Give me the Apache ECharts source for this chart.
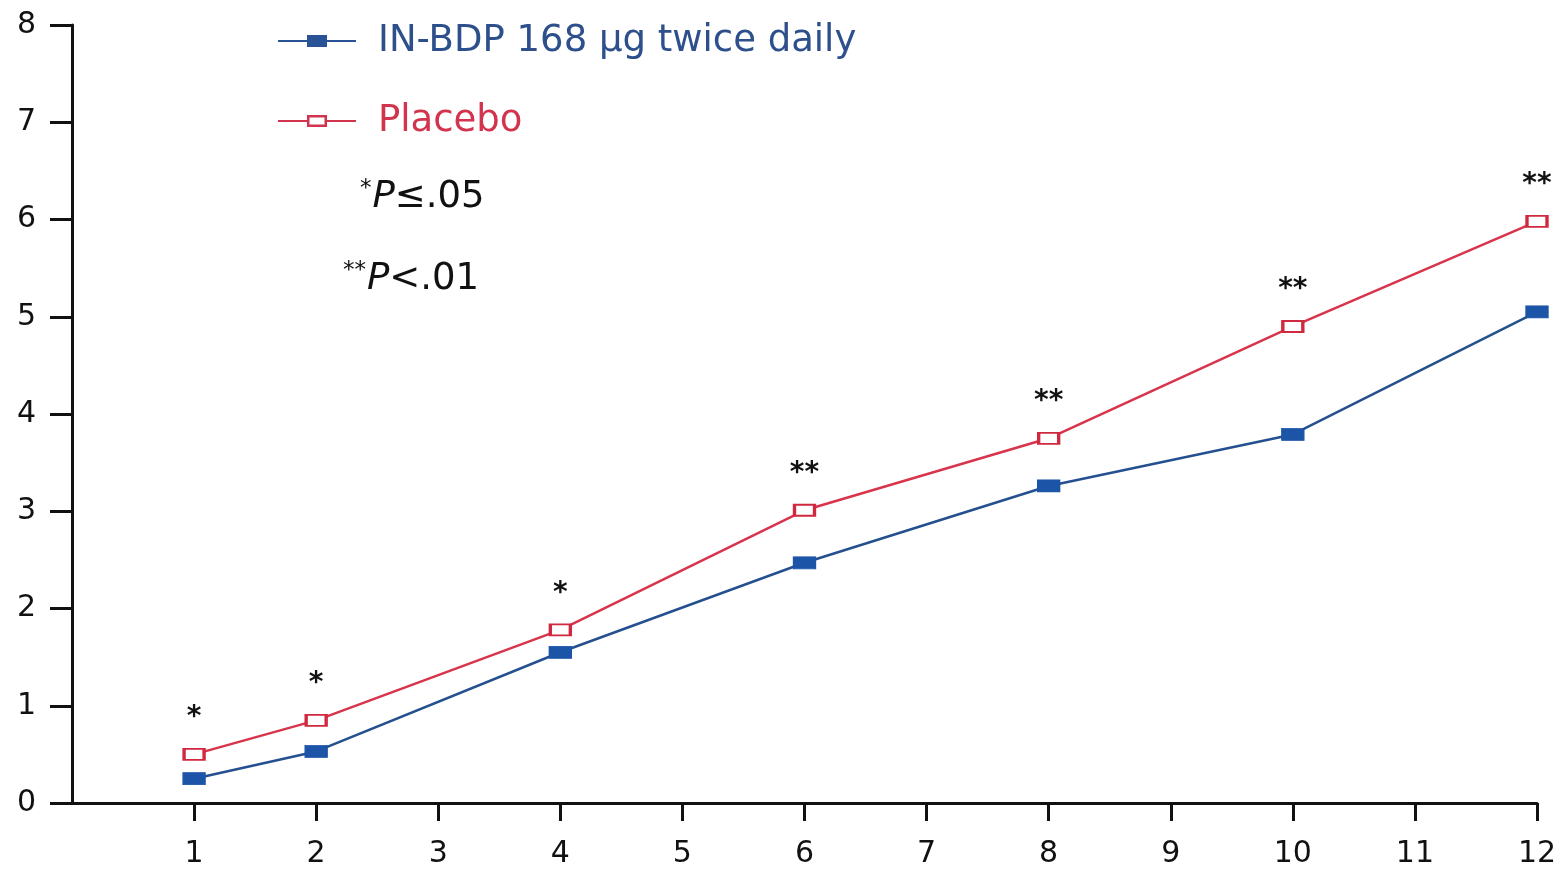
<!DOCTYPE html>
<html>
<head>
<meta charset="utf-8">
<script src="https://cdn.jsdelivr.net/npm/echarts@6/dist/echarts.min.js"></script>
<style>html,body{margin:0;padding:0;background:#fff}#c{width:1560px;height:869px}</style>
</head>
<body>
<div id="c"></div>
<script>
const weeks = [1, 2, 4, 6, 8, 10, 12];
const bdpValues = [0.25, 0.53, 1.55, 2.47, 3.26, 3.79, 5.05];
const placeboValues = [0.50, 0.85, 1.78, 3.01, 3.75, 4.90, 5.98];
const significance = ['*', '*', '*', '**', '**', '**', '**'];
const xTicks = [1, 2, 3, 4, 5, 6, 7, 8, 9, 10, 11, 12];
const yTicks = [0, 1, 2, 3, 4, 5, 6, 7, 8];
const seriesNames = ['IN-BDP 168 \u00b5g twice daily', 'Placebo'];

const blue = '#25508f';
const red = '#d8344c';
const font = 'DejaVu Sans, Liberation Sans, sans-serif';

const iconFilled = 'path://M0,5H29V0H49V5H78V7H49V12H29V7H0Z';
const iconHollow = 'path://M0,5H29V0H49V5H78V7H49V12H29V7H0Z M31.5,2.5V9.5H46.5V2.5Z';

const chart = echarts.init(document.getElementById('c'), null, {renderer: 'canvas'});
chart.setOption({
  animation: false,
  backgroundColor: '#fff',
  grid: {left: 72, right: 23, top: 25, bottom: 66, containLabel: false},
  legend: {
    orient: 'vertical',
    left: 278,
    top: 19,
    padding: 0,
    itemWidth: 78,
    itemHeight: 12,
    itemGap: 36,
    textStyle: {fontSize: 37, fontFamily: font, lineHeight: 44, padding: [0, 0, 0, 17]},
    data: [
      {name: seriesNames[0], icon: iconFilled, itemStyle: {color: '#2a5296', borderWidth: 0}, textStyle: {color: '#2d4f8c'}},
      {name: seriesNames[1], icon: iconHollow, itemStyle: {color: '#d2344e', borderWidth: 0}, textStyle: {color: '#d2344e'}}
    ]
  },
  xAxis: {
    type: 'value',
    min: 0,
    max: 12,
    interval: 1,
    splitLine: {show: false},
    axisLine: {show: true, lineStyle: {color: '#111', width: 3}},
    axisTick: {show: true, length: 18, lineStyle: {color: '#111', width: 3}, customValues: xTicks},
    axisLabel: {fontSize: 30, color: '#111', fontFamily: font, margin: 36, customValues: xTicks}
  },
  yAxis: {
    type: 'value',
    min: 0,
    max: 8,
    interval: 1,
    splitLine: {show: false},
    axisLine: {show: true, lineStyle: {color: '#111', width: 3}},
    axisTick: {show: true, length: 22, lineStyle: {color: '#111', width: 3}, customValues: yTicks},
    axisLabel: {fontSize: 30, color: '#111', fontFamily: font, margin: 36, customValues: yTicks}
  },
  series: [
    {
      name: seriesNames[0],
      type: 'line',
      data: weeks.map((w, i) => [w, bdpValues[i]]),
      symbol: 'rect',
      symbolSize: [22, 12],
      lineStyle: {color: blue, width: 2.5},
      itemStyle: {color: '#1c55a8', borderColor: '#1c55a8', borderWidth: 1},
      z: 3
    },
    {
      name: seriesNames[1],
      type: 'line',
      data: weeks.map((w, i) => [w, placeboValues[i]]),
      symbol: 'rect',
      symbolSize: [20, 11],
      lineStyle: {color: red, width: 2.5},
      itemStyle: {color: '#fff', borderColor: '#d0283e', borderWidth: 2.5},
      label: {
        show: true,
        position: 'top',
        distance: 16,
        fontSize: 28,
        fontWeight: 'bold',
        color: '#111',
        fontFamily: font,
        formatter: p => significance[p.dataIndex]
      },
      z: 4
    }
  ],
  graphic: [
    {
      type: 'text',
      left: 360,
      top: 178,
      style: {
        text: '{s|*}{p|P}{n|\u2264.05}',
        rich: {
          s: {fontSize: 23, fontFamily: font, fill: '#111', verticalAlign: 'top', padding: [0, 1, 15, 0]},
          p: {fontSize: 37, fontStyle: 'italic', fontFamily: font, fill: '#111'},
          n: {fontSize: 37, fontFamily: font, fill: '#111'}
        }
      }
    },
    {
      type: 'text',
      left: 343,
      top: 260,
      style: {
        text: '{s|**}{p|P}{n|<.01}',
        rich: {
          s: {fontSize: 23, fontFamily: font, fill: '#111', verticalAlign: 'top', padding: [0, 1, 15, 0]},
          p: {fontSize: 37, fontStyle: 'italic', fontFamily: font, fill: '#111'},
          n: {fontSize: 37, fontFamily: font, fill: '#111'}
        }
      }
    }
  ]
});
</script>
</body>
</html>
